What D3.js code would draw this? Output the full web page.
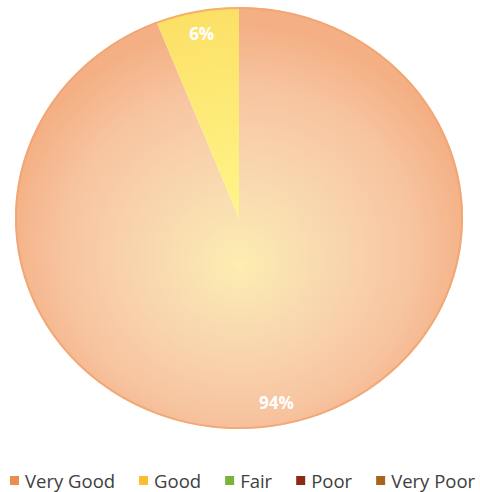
<!DOCTYPE html>
<html>
<head>
<meta charset="utf-8">
<script src="https://cdn.jsdelivr.net/npm/d3@7"></script>
<style>
  html, body { margin: 0; padding: 0; background: #ffffff; }
  svg { display: block; }
</style>
</head>
<body>
<svg id="chart" width="480" height="492"></svg>
<script>
// ---- data ----
const categories = ["Very Good", "Good", "Fair", "Poor", "Very Poor"];
const values = [94, 6, 0, 0, 0];
const labels = ["94%", "6%", "", "", ""];
const legendColors = ["#E98E4E", "#F8BE30", "#7AB43B", "#8C2A14", "#A8641C"];

// ---- layout ----
const cx = 239, cy = 218, rx = 224, ry = 211;
const svg = d3.select("#chart");
const defs = svg.append("defs");

const gVG = defs.append("radialGradient").attr("id", "gradVG")
  .attr("gradientUnits", "userSpaceOnUse").attr("cx", 0).attr("cy", 30).attr("r", rx + 10).attr("fx", 0).attr("fy", 50);
gVG.append("stop").attr("offset", "0%").attr("stop-color", "#FCEDB0");
gVG.append("stop").attr("offset", "35%").attr("stop-color", "#F9D9B0");
gVG.append("stop").attr("offset", "75%").attr("stop-color", "#F7C4A0");
gVG.append("stop").attr("offset", "100%").attr("stop-color", "#F4B084");

const gG = defs.append("radialGradient").attr("id", "gradG")
  .attr("gradientUnits", "userSpaceOnUse").attr("cx", 0).attr("cy", 0).attr("r", rx);
gG.append("stop").attr("offset", "0%").attr("stop-color", "#FFF58A");
gG.append("stop").attr("offset", "100%").attr("stop-color", "#FCE066");

const sliceFills = ["url(#gradVG)", "url(#gradG)", legendColors[2], legendColors[3], legendColors[4]];

const pie = d3.pie().sort(null).value(d => d.v);
const data = categories.map((c, i) => ({ c, v: values[i], label: labels[i], i }));
const arcs = pie(data);

const arc = d3.arc().innerRadius(0).outerRadius(rx);
const labelArc = d3.arc().innerRadius(rx * 0.89).outerRadius(rx * 0.89);

const sy = ry / rx;
const g = svg.append("g").attr("transform", `translate(${cx},${cy})`);
const pieG = g.append("g").attr("transform", `scale(1,${sy})`);

pieG.selectAll("path.slice")
  .data(arcs.filter(a => a.data.v > 0))
  .join("path")
  .attr("class", "slice")
  .attr("d", arc)
  .attr("fill", d => sliceFills[d.data.i]);

// outer rim
pieG.append("ellipse").attr("cx", 0).attr("cy", 0).attr("rx", rx - 1).attr("ry", rx - 1)
  .attr("fill", "none").attr("stroke", "#F0A470").attr("stroke-width", 2).attr("opacity", 0.8);

g.selectAll("text.lbl")
  .data(arcs.filter(a => a.data.v > 0))
  .join("text")
  .attr("class", "lbl")
  .attr("x", d => labelArc.centroid(d)[0])
  .attr("y", d => labelArc.centroid(d)[1] * sy)
  .attr("text-anchor", "middle")
  .attr("dominant-baseline", "central")
  .attr("font-family", "'Open Sans', sans-serif")
  .attr("font-weight", "bold")
  .attr("font-size", 17)
  .attr("fill", "#ffffff")
  .text(d => d.data.label);

// ---- legend ----
const leg = svg.append("g");
let x = 10;
const ly = 480;
categories.forEach((c, i) => {
  leg.append("rect").attr("x", x).attr("y", ly - 4).attr("width", 9).attr("height", 9)
    .attr("fill", legendColors[i]);
  const t = leg.append("text").attr("x", x + 15).attr("y", ly)
    .attr("dominant-baseline", "central")
    .attr("font-family", "'Open Sans', sans-serif")
    .attr("font-size", 18.5)
    .attr("fill", "#404040")
    .text(c);
  const w = t.node().getComputedTextLength();
  x = x + 15 + w + 24;
});
</script>
</body>
</html>
